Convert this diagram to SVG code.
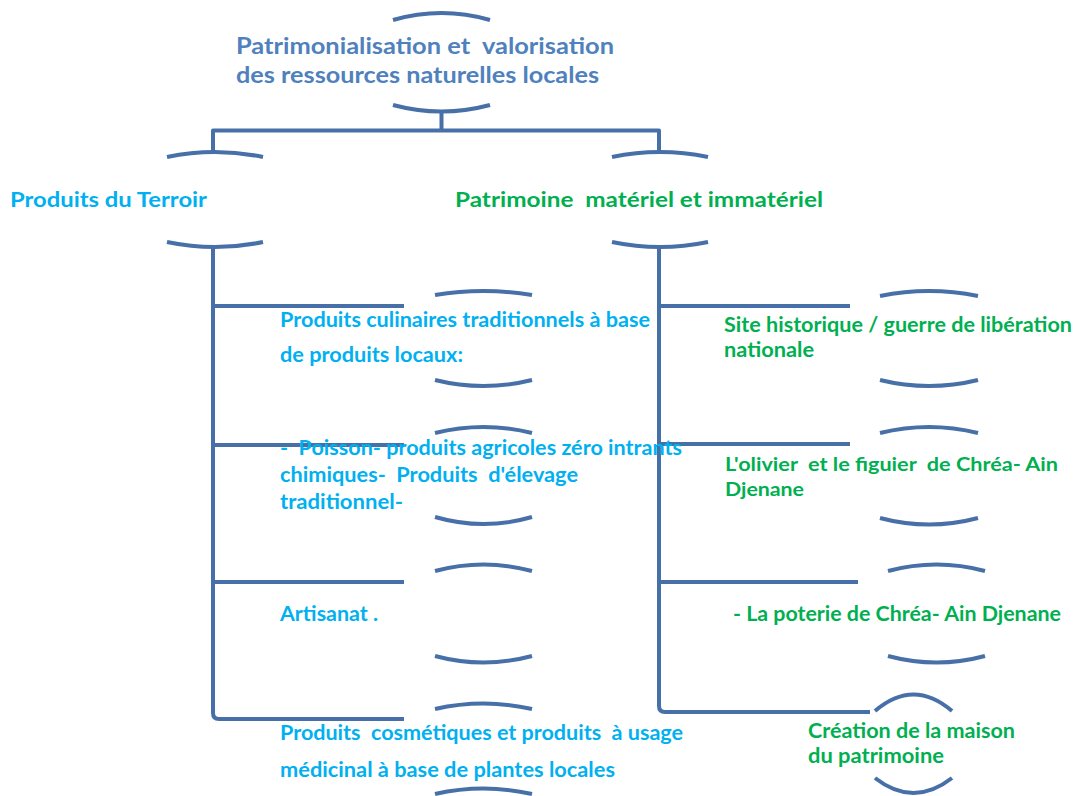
<svg xmlns="http://www.w3.org/2000/svg" width="1079" height="796" viewBox="0 0 1079 796" xml:space="preserve">
<style>
.ln{fill:none;stroke:#4870a8;stroke-width:4;stroke-linejoin:round}
.arc{fill:none;stroke:#4870a8;stroke-width:4}
text{font-family:Lato,"Open Sans","Liberation Sans",sans-serif;font-weight:700;font-size:20px;white-space:pre}
.t{fill:#4f81bd;font-size:22px}
.b{fill:#00b0f0}
.g{fill:#00b050}
.s{font-size:19px}
</style>
<rect width="1079" height="796" fill="#fff"/>
<g id="connectors">
<path class="ln" d="M441.5,111 V130.5 M213,152 V130.5 H659 V152"/>
<path class="ln" d="M213,247 V713 Q213,719 219,719 H404 M213,306 H404 M213,445 H404 M213,582 H404"/>
<path class="ln" d="M659,247 V706 Q659,712 665,712 H870 M659,306 H850 M659,444 H850 M659,582 H858"/>
</g>
<g id="root">
<path class="arc" d="M393,20 Q441.5,6 490,20"/>
<path class="arc" d="M393,105 Q441.5,118 490,105"/>
<text class="t" x="236" y="54" textLength="378" lengthAdjust="spacingAndGlyphs">Patrimonialisation et  valorisation</text>
<text class="t" x="236" y="83" textLength="363" lengthAdjust="spacingAndGlyphs">des ressources naturelles locales</text>
</g>
<g id="terroir">
<path class="arc" d="M167,157 Q215,147 263,157"/>
<path class="arc" d="M167,242 Q215,252 263,242"/>
<text class="b" x="10" y="207" textLength="197" lengthAdjust="spacingAndGlyphs">Produits du Terroir</text>
</g>
<g id="patrimoine">
<path class="arc" d="M612,157 Q660,147 708,157"/>
<path class="arc" d="M612,242 Q660,252 708,242"/>
<text class="g" x="455" y="207" textLength="368" lengthAdjust="spacingAndGlyphs">Patrimoine  matériel et immatériel</text>
</g>
<g id="culinaires">
<path class="arc" d="M435,295 Q483.5,287 532,295"/>
<path class="arc" d="M435,380 Q483.5,392 532,380"/>
<text class="b" x="280" y="327" textLength="370" lengthAdjust="spacingAndGlyphs">Produits culinaires traditionnels à base</text>
<text class="b" x="280" y="362" textLength="183" lengthAdjust="spacingAndGlyphs">de produits locaux:</text>
</g>
<g id="poisson">
<path class="arc" d="M435,433 Q483.5,421 532,433"/>
<path class="arc" d="M435,517 Q483.5,531 532,517"/>
<text class="b" x="280" y="455" textLength="402" lengthAdjust="spacingAndGlyphs">-  Poisson- produits agricoles zéro intrants</text>
<text class="b" x="280" y="482" textLength="298" lengthAdjust="spacingAndGlyphs">chimiques-  Produits  d'élevage</text>
<text class="b" x="280" y="509" textLength="123" lengthAdjust="spacingAndGlyphs">traditionnel-</text>
</g>
<g id="artisanat">
<path class="arc" d="M435,571 Q483.5,558 532,571"/>
<path class="arc" d="M435,656 Q483.5,669 532,656"/>
<text class="b" x="280" y="621" textLength="98" lengthAdjust="spacingAndGlyphs">Artisanat .</text>
</g>
<g id="cosmetiques">
<path class="arc" d="M435,709 Q483.5,698 532,709"/>
<path class="arc" d="M435,794 Q483.5,783 532,794"/>
<text class="b" x="280" y="740" textLength="403" lengthAdjust="spacingAndGlyphs">Produits  cosmétiques et produits  à usage</text>
<text class="b" x="280" y="777" textLength="335" lengthAdjust="spacingAndGlyphs">médicinal à base de plantes locales</text>
</g>
<g id="site">
<path class="arc" d="M880,296 Q929,286 978,296"/>
<path class="arc" d="M880,380 Q929,392 978,380"/>
<text class="g" x="724" y="332" textLength="348" lengthAdjust="spacingAndGlyphs">Site historique / guerre de libération</text>
<text class="g" x="724" y="357" textLength="90" lengthAdjust="spacingAndGlyphs">nationale</text>
</g>
<g id="olivier">
<path class="arc" d="M880,433 Q929,421 978,433"/>
<path class="arc" d="M880,518 Q929,531 978,518"/>
<text class="g s" x="725" y="471" textLength="333" lengthAdjust="spacingAndGlyphs">L'olivier  et le figuier  de Chréa- Ain</text>
<text class="g s" x="725" y="496" textLength="79" lengthAdjust="spacingAndGlyphs">Djenane</text>
</g>
<g id="poterie">
<path class="arc" d="M888,571 Q936.5,558 985,571"/>
<path class="arc" d="M888,656 Q936.5,669 985,656"/>
<text class="g" x="733" y="621" textLength="328" lengthAdjust="spacingAndGlyphs">- La poterie de Chréa- Ain Djenane</text>
</g>
<g id="maison">
<path class="arc" d="M875,711 Q913.5,678 952,711"/>
<path class="arc" d="M875,778 Q913.5,808 952,778"/>
<text class="g" x="808" y="738" textLength="207" lengthAdjust="spacingAndGlyphs">Création de la maison</text>
<text class="g" x="808" y="763" textLength="136" lengthAdjust="spacingAndGlyphs">du patrimoine</text>
</g>
</svg>
